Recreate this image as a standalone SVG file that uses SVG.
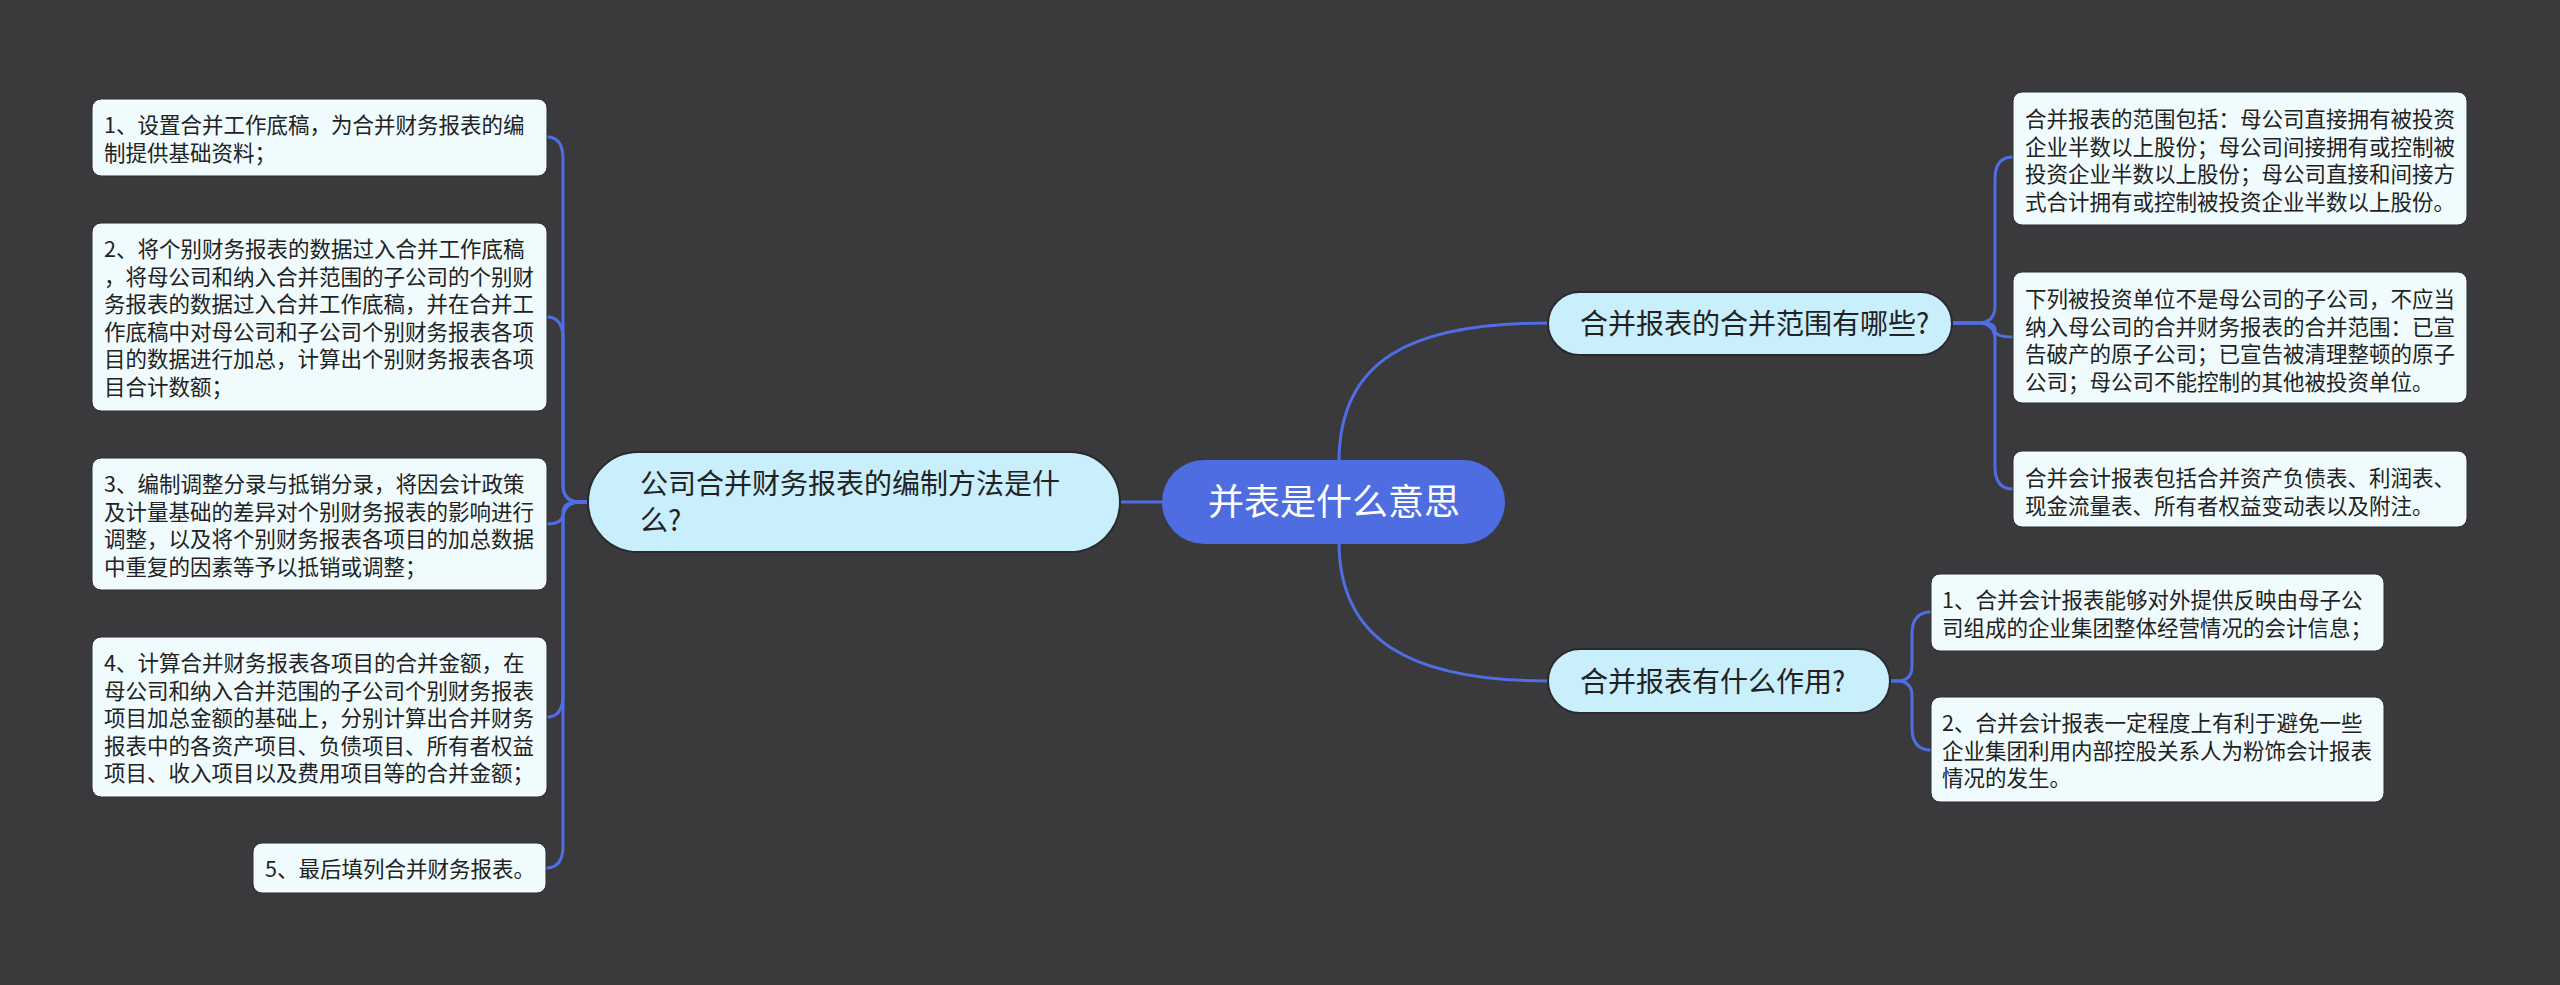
<svg xmlns="http://www.w3.org/2000/svg" width="2560" height="985" viewBox="0 0 2560 985">
<style>
.bg{fill:#3a393b}
.leaf{fill:#f0fbfd;stroke:#2c2c2e;stroke-width:1}
.pill{fill:#c9eefc;stroke:#2a2a2a;stroke-width:2}
.root{fill:#4d6de0}
.lt{font-family:"Noto Sans CJK SC","Noto Sans",sans-serif;font-size:21.5px;fill:#222}
.pt{font-family:"Noto Sans CJK SC","Noto Sans",sans-serif;font-size:28px;fill:#222}
.rt{font-family:"Noto Sans CJK SC","Noto Sans",sans-serif;font-size:36px;fill:#fff}
.c{fill:none;stroke:#4f6ee4;stroke-width:3}
</style>
<rect class="bg" x="0" y="0" width="2560" height="985"/>
<g id="connectors">
<path class="c" d="M1162,502 H1120"/>
<path class="c" d="M1339,462 C1339,360 1410,323 1548,323"/>
<path class="c" d="M1339,542 C1339,640 1410,681 1548,681"/>
<path class="c" d="M588,502 H580 Q563,502 563,485 V159 Q563,137 547,137"/>
<path class="c" d="M588,502 H580 Q563,502 563,485 V339 Q563,317 547,317"/>
<path class="c" d="M588,502 H577 Q563,502 563,513 Q563,524 547,524"/>
<path class="c" d="M588,502 H580 Q563,502 563,519 V695 Q563,717 547,717"/>
<path class="c" d="M588,502 H580 Q563,502 563,519 V846 Q563,868 546,868"/>
<path class="c" d="M1952,323 H1978 Q1995,323 1995,306 V179 Q1995,157 2013,157"/>
<path class="c" d="M1952,323 H1983 Q1995,323 1995,330 Q1995,337 2013,337"/>
<path class="c" d="M1952,323 H1978 Q1995,323 1995,340 V467 Q1995,489 2013,489"/>
<path class="c" d="M1890,681 H1897 Q1912,681 1912,666 V634 Q1912,612 1931,612"/>
<path class="c" d="M1890,681 H1897 Q1912,681 1912,696 V728 Q1912,750 1931,750"/>
</g>
<g id="root">
<rect class="root" x="1162" y="460" width="343" height="84" rx="42"/>
<text class="rt" x="1334" y="515" text-anchor="middle">并表是什么意思</text>
</g>
<g id="left-topic">
<rect class="pill" x="588" y="452" width="532" height="100" rx="50"/>
<text class="pt" x="640" y="494">公司合并财务报表的编制方法是什</text>
<text class="pt" x="640" y="531">么?</text>
</g>
<g id="right-topic-1">
<rect class="pill" x="1548" y="292" width="404" height="63" rx="31.5"/>
<text class="pt" x="1580" y="334">合并报表的合并范围有哪些?</text>
</g>
<g id="right-topic-2">
<rect class="pill" x="1548" y="649" width="342" height="64" rx="32"/>
<text class="pt" x="1580" y="692">合并报表有什么作用?</text>
</g>
<g id="left-1">
<rect class="leaf" x="92" y="99" width="455" height="77" rx="9"/>
<text class="lt" x="104" y="133"><tspan x="104">1、设置合并工作底稿，为合并财务报表的编</tspan><tspan x="104" dy="27.5">制提供基础资料；</tspan></text>
</g>
<g id="left-2">
<rect class="leaf" x="92" y="223" width="455" height="188" rx="9"/>
<text class="lt" x="104" y="257"><tspan x="104">2、将个别财务报表的数据过入合并工作底稿</tspan><tspan x="104" dy="27.5">，将母公司和纳入合并范围的子公司的个别财</tspan><tspan x="104" dy="27.5">务报表的数据过入合并工作底稿，并在合并工</tspan><tspan x="104" dy="27.5">作底稿中对母公司和子公司个别财务报表各项</tspan><tspan x="104" dy="27.5">目的数据进行加总，计算出个别财务报表各项</tspan><tspan x="104" dy="27.5">目合计数额；</tspan></text>
</g>
<g id="left-3">
<rect class="leaf" x="92" y="458" width="455" height="132" rx="9"/>
<text class="lt" x="104" y="492"><tspan x="104">3、编制调整分录与抵销分录，将因会计政策</tspan><tspan x="104" dy="27.5">及计量基础的差异对个别财务报表的影响进行</tspan><tspan x="104" dy="27.5">调整，以及将个别财务报表各项目的加总数据</tspan><tspan x="104" dy="27.5">中重复的因素等予以抵销或调整；</tspan></text>
</g>
<g id="left-4">
<rect class="leaf" x="92" y="637" width="455" height="160" rx="9"/>
<text class="lt" x="104" y="671"><tspan x="104">4、计算合并财务报表各项目的合并金额，在</tspan><tspan x="104" dy="27.5">母公司和纳入合并范围的子公司个别财务报表</tspan><tspan x="104" dy="27.5">项目加总金额的基础上，分别计算出合并财务</tspan><tspan x="104" dy="27.5">报表中的各资产项目、负债项目、所有者权益</tspan><tspan x="104" dy="27.5">项目、收入项目以及费用项目等的合并金额；</tspan></text>
</g>
<g id="left-5">
<rect class="leaf" x="253" y="843" width="293" height="50" rx="9"/>
<text class="lt" x="265" y="877">5、最后填列合并财务报表。</text>
</g>
<g id="right-1a">
<rect class="leaf" x="2013" y="92" width="454" height="133" rx="9"/>
<text class="lt" x="2025" y="127"><tspan x="2025">合并报表的范围包括：母公司直接拥有被投资</tspan><tspan x="2025" dy="27.5">企业半数以上股份；母公司间接拥有或控制被</tspan><tspan x="2025" dy="27.5">投资企业半数以上股份；母公司直接和间接方</tspan><tspan x="2025" dy="27.5">式合计拥有或控制被投资企业半数以上股份。</tspan></text>
</g>
<g id="right-1b">
<rect class="leaf" x="2013" y="272" width="454" height="131" rx="9"/>
<text class="lt" x="2025" y="307"><tspan x="2025">下列被投资单位不是母公司的子公司，不应当</tspan><tspan x="2025" dy="27.5">纳入母公司的合并财务报表的合并范围：已宣</tspan><tspan x="2025" dy="27.5">告破产的原子公司；已宣告被清理整顿的原子</tspan><tspan x="2025" dy="27.5">公司；母公司不能控制的其他被投资单位。</tspan></text>
</g>
<g id="right-1c">
<rect class="leaf" x="2013" y="451" width="454" height="76" rx="9"/>
<text class="lt" x="2025" y="486"><tspan x="2025">合并会计报表包括合并资产负债表、利润表、</tspan><tspan x="2025" dy="27.5">现金流量表、所有者权益变动表以及附注。</tspan></text>
</g>
<g id="right-2a">
<rect class="leaf" x="1931" y="574" width="453" height="77" rx="9"/>
<text class="lt" x="1942" y="608"><tspan x="1942">1、合并会计报表能够对外提供反映由母子公</tspan><tspan x="1942" dy="27.5">司组成的企业集团整体经营情况的会计信息；</tspan></text>
</g>
<g id="right-2b">
<rect class="leaf" x="1931" y="697" width="453" height="105" rx="9"/>
<text class="lt" x="1942" y="731"><tspan x="1942">2、合并会计报表一定程度上有利于避免一些</tspan><tspan x="1942" dy="27.5">企业集团利用内部控股关系人为粉饰会计报表</tspan><tspan x="1942" dy="27.5">情况的发生。</tspan></text>
</g>
</svg>
